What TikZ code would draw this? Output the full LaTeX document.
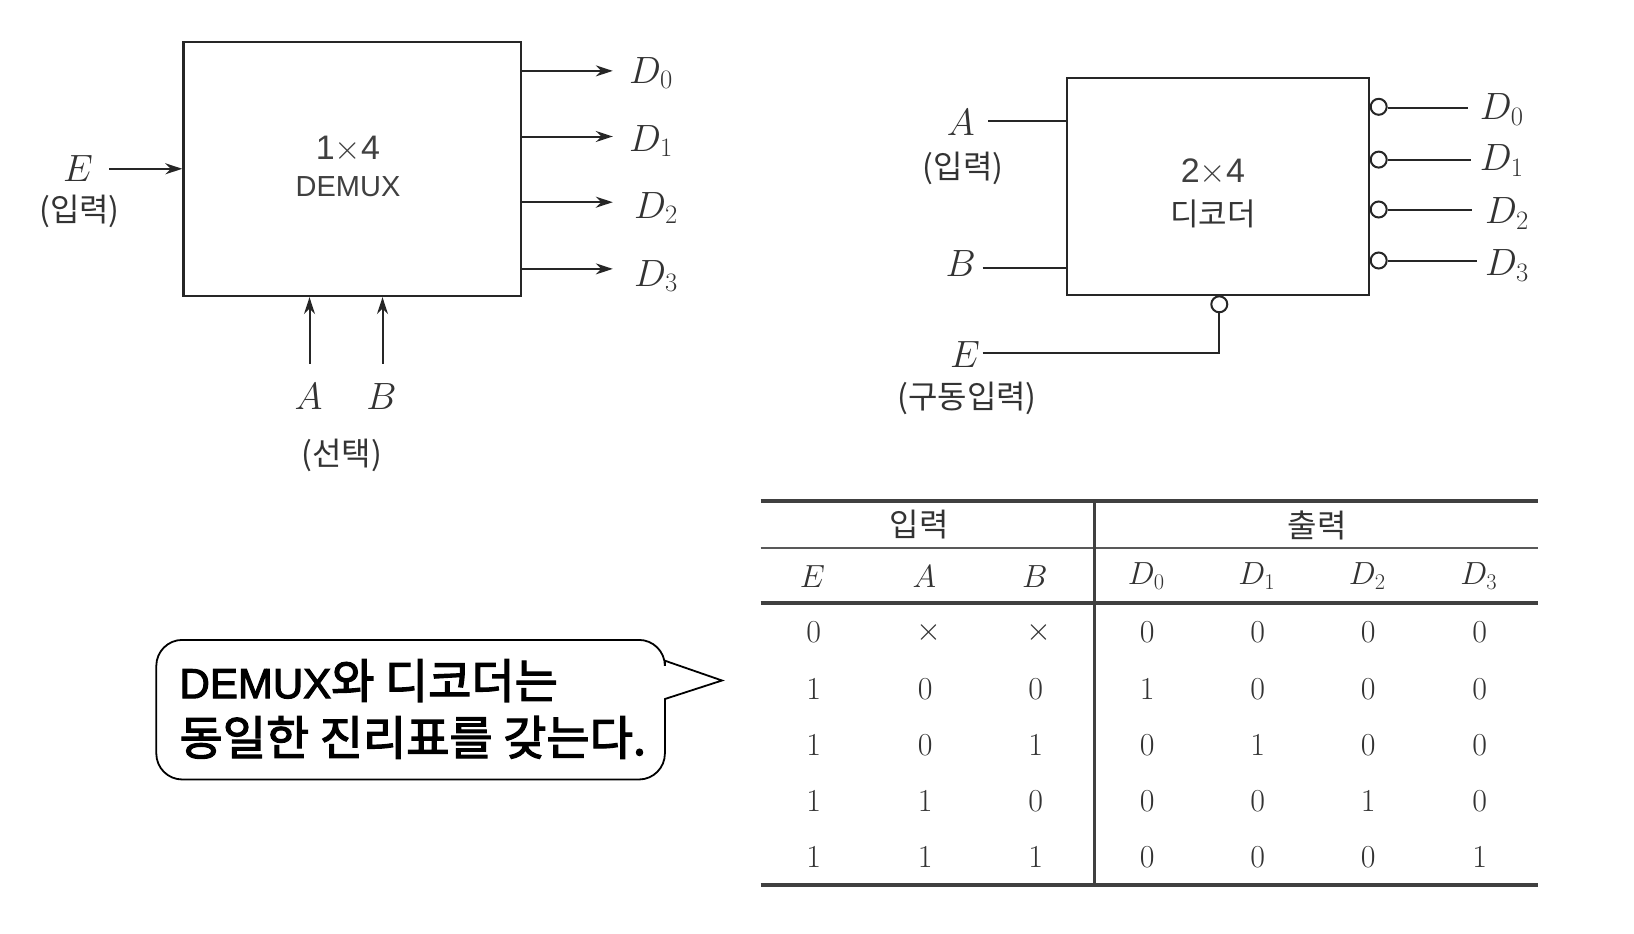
\documentclass[tikz,border=0pt]{standalone}
\usepackage{fix-cm}
\usepackage{fontspec}
\usepackage{amsmath}
\usetikzlibrary{arrows.meta, positioning, calc}
\newfontfamily\krfont{Noto Sans CJK KR}
\newfontfamily\saykrfont[FakeBold=2.6]{Noto Sans CJK KR}
\newfontfamily\saylatin[FakeBold=2.6]{Liberation Sans}
\newfontfamily\latinsans{Liberation Sans}
\begin{document}
\begin{tikzpicture}[
    x=1pt, y=-1pt,
    blockbox/.style={draw=black!85, line width=2.2pt, inner sep=0pt},
    sigline/.style={draw=black!85, line width=2pt},
    sigarrow/.style={sigline, -{Stealth[length=17pt, width=11pt]}},
    bubble/.style={circle, draw=black!85, line width=2pt, fill=white, minimum size=16pt, inner sep=0pt},
    siglabel/.style={font=\fontsize{38}{42}\selectfont, text=black!80},
    krlabel/.style={font=\krfont\fontsize{32}{36}\selectfont, text=black!80},
    blocktext/.style={font=\latinsans\fontsize{34}{40}\selectfont, text=black!75},
    cell/.style={font=\fontsize{32}{36}\selectfont, text=black!80},
    boldrule/.style={draw=black!75, line width=4pt},
    thinrule/.style={draw=black!65, line width=2pt},
    saytext/.style={font=\saykrfont\fontsize{47}{50}\selectfont, anchor=west},
  ]
  \useasboundingbox (0,0) rectangle (1634,934);

  % demux block
  \node[blockbox, minimum width=337.6pt, minimum height=254.3pt] (demux) at (352.2,168.9) {};
  \node[blocktext] (demuxsize) at (348,149) {1$\times$4};
  \node[blocktext, font=\latinsans\fontsize{29}{32}\selectfont] (demuxname) at (348,186.5) {DEMUX};

  \node[siglabel] (mE) at (78,169) {$E$};
  \node[krlabel] (mEnote) at (79.5,211) {(입력)};
  \node[siglabel] (mA) at (308.5,397) {$A$};
  \node[siglabel] (mB) at (381.4,397) {$B$};
  \node[krlabel] (mselnote) at (341.8,455) {(선택)};
  \node[siglabel] (mD0) at (651,73) {$D_0$};
  \node[siglabel] (mD1) at (651,141) {$D_1$};
  \node[siglabel] (mD2) at (656,208) {$D_2$};
  \node[siglabel] (mD3) at (656,276) {$D_3$};

  \coordinate (mEin) at (109.4,168.8);
  \coordinate (mAin) at (309.5,363.7);
  \coordinate (mBin) at (382.5,363.7);
  \coordinate (mout0) at (612.8,70.9);
  \coordinate (mout1) at (612.8,136.5);
  \coordinate (mout2) at (612.8,202.2);
  \coordinate (mout3) at (612.8,268.9);

  \draw[sigarrow] (mEin) -- (demux.west |- mEin);
  \draw[sigarrow] (mAin) -- (demux.south -| mAin);
  \draw[sigarrow] (mBin) -- (demux.south -| mBin);
  \draw[sigarrow] (demux.east |- mout0) -- (mout0);
  \draw[sigarrow] (demux.east |- mout1) -- (mout1);
  \draw[sigarrow] (demux.east |- mout2) -- (mout2);
  \draw[sigarrow] (demux.east |- mout3) -- (mout3);

  % decoder block
  \node[blockbox, minimum width=302.3pt, minimum height=216.8pt] (dec) at (1218.2,186.6) {};
  \node[blocktext] (decsize) at (1213,172) {2$\times$4};
  \node[krlabel, font=\krfont\fontsize{31}{34}\selectfont] (decname) at (1213,213.6) {디코더};

  \node[siglabel] (dA) at (960.8,123) {$A$};
  \node[krlabel] (dAnote) at (963,168) {(입력)};
  \node[siglabel] (dB) at (960.8,263.7) {$B$};
  \node[siglabel] (dE) at (965,354.3) {$E$};
  \node[krlabel] (dEnote) at (967,398) {(구동입력)};
  \node[siglabel] (dD0) at (1501.7,109.3) {$D_0$};
  \node[siglabel] (dD1) at (1501.7,160.4) {$D_1$};
  \node[siglabel] (dD2) at (1507,213.5) {$D_2$};
  \node[siglabel] (dD3) at (1507,265.7) {$D_3$};

  \node[bubble] (b0) at (1378.7,106.8) {};
  \node[bubble] (b1) at (1378.7,159.6) {};
  \node[bubble] (b2) at (1378.7,209.5) {};
  \node[bubble] (b3) at (1378.7,260.5) {};
  \node[bubble] (bE) at (1219.3,304.3) {};

  \coordinate (dAin) at (988,120.9);
  \coordinate (dBin) at (982.7,267.8);
  \coordinate (dEin) at (982.7,353.3);
  \coordinate (dout0) at (1467.5,108);
  \coordinate (dout1) at (1470.5,159.6);
  \coordinate (dout2) at (1472,209.5);
  \coordinate (dout3) at (1477,260.5);

  \draw[sigline] (dAin) -- (dec.west |- dAin);
  \draw[sigline] (dBin) -- (dec.west |- dBin);
  \draw[sigline] (dEin) -| (bE.south);
  \draw[sigline] (b0.east |- dout0) -- (dout0);
  \draw[sigline] (b1.east) -- (dout1);
  \draw[sigline] (b2.east) -- (dout2);
  \draw[sigline] (b3.east) -- (dout3);

  % truth table
  \draw[boldrule] (760.7,501.2) -- (1538,501.2);
  \draw[thinrule] (760.7,548) -- (1538,548);
  \draw[boldrule] (760.7,603) -- (1538,603);
  \draw[boldrule] (760.7,885) -- (1538,885);
  \draw[boldrule, line width=3.2pt] (1094.2,499.2) -- (1094.2,887);

  \node[krlabel] (inhead) at (919,525) {입력};
  \node[krlabel] (outhead) at (1317,525) {출력};

  \foreach \name/\colx/\txt in {E/812.3/E, A/924.3/A, B/1034.8/B, D0/1146.3/D_0, D1/1256.8/D_1, D2/1367.3/D_2, D3/1478.7/D_3}
    \node[cell] (h\name) at (\colx,576.3) {$\txt$};

  \foreach \rowy/\vals [count=\r] in {
      632.6/{0,\:\times,\:\times,0,0,0,0},
      688.8/{1,0,0,1,0,0,0},
      745.1/{1,0,1,0,1,0,0},
      801.4/{1,1,0,0,0,1,0},
      857.6/{1,1,1,0,0,0,1}}
    \foreach \v [count=\c] in \vals {
      \pgfmathsetmacro{\colx}{{813.8,925.3,1035.8,1147.3,1257.8,1368.3,1479.7}[\c-1]}
      \node[cell] (c\r-\c) at (\colx,\rowy) {$\v$};
    }

  % speech balloon
  \draw[draw=black, line width=1.8pt, fill=white]
    (664.9,660.7) -- (722,680.5) -- (664.9,699)
    [rounded corners=26pt] -- (664.9,779.5) -- (156.3,779.5) -- (156.3,639.9) -- (664.9,639.9)
    [sharp corners] -- cycle;
  \node[saytext] (say1) at (176,680.6) {{\saylatin\fontsize{42}{50}\selectfont DEMUX}와 디코더는};
  \node[saytext] (say2) at (176,737.4) {동일한 진리표를 갖는다.};
\end{tikzpicture}
\end{document}
